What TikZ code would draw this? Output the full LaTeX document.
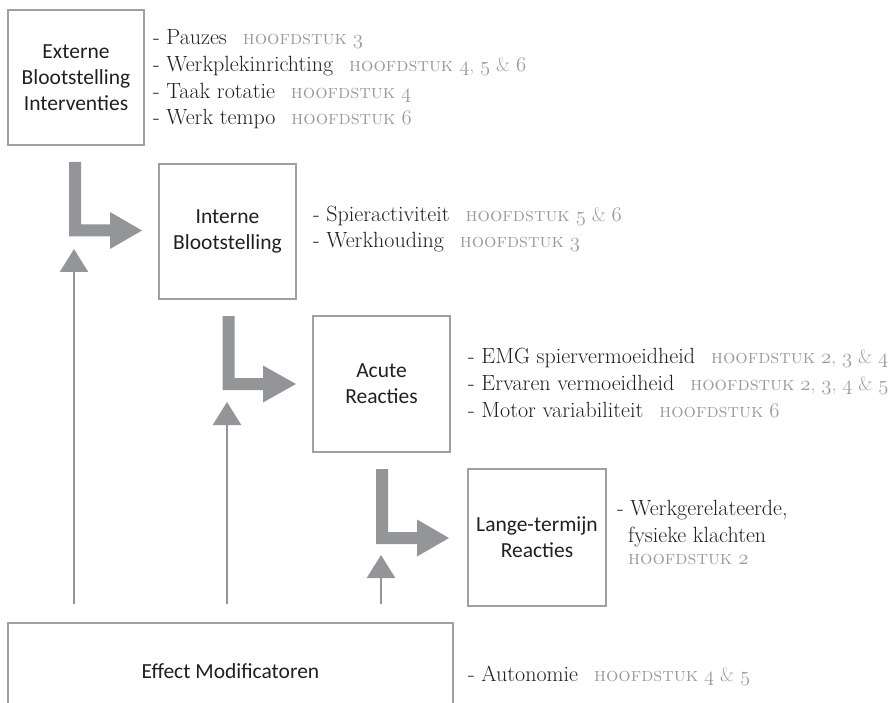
\documentclass[tikz,border=0pt]{standalone}
\usepackage{fontspec}
\setsansfont{Carlito}
\usetikzlibrary{arrows.meta}
\definecolor{boxgray}{HTML}{A0A0A0}
\definecolor{arrgray}{HTML}{939598}
\definecolor{scgray}{HTML}{9B9B9B}
\definecolor{txt}{HTML}{231F20}
\newcommand\osf[1]{{\usefont{OML}{lmm}{m}{it}#1}}
\newcommand\scpart[1]{{\fontsize{19.5}{26}\selectfont\color{scgray}\textsc{hoofdstuk} #1}}
\newcommand\hfd[1]{\hspace{16pt}\scpart{#1}}
% L-shaped thick arrow: #1 vertical centre x, #2 top y, #3 horizontal centre y, #4 head start x, #5 tip x
\newcommand\LArrowShape[5]{%
  \fill[arrgray] ({#1-6},#2) -- ({#1+6},#2) -- ({#1+6},{#3-6}) -- (#4,{#3-6}) --
    (#4,{#3-18.5}) -- (#5,#3) -- (#4,{#3+18.5}) -- (#4,{#3+6}) -- ({#1-6},{#3+6}) -- cycle;}
\tikzset{
  box/.style={draw=boxgray, line width=1.8pt, inner sep=0pt, align=center,
    font=\sffamily\fontsize{21.5}{26}\selectfont, text=txt},
  item/.style={anchor=base west, inner sep=0pt, font=\fontsize{22}{27}\selectfont, text=txt},
  thinarrow/.style={draw=arrgray, line width=2.5pt, -{Triangle[width=28pt,length=23pt]}}
}
\begin{document}
\begin{tikzpicture}[x=1pt,y=-1pt]
\useasboundingbox (0,0) rectangle (894,703);

% boxes
\node[box, minimum width=136pt, minimum height=135pt] (ext) at (76,77.5) {Externe\\Blootstelling\\Interventies};
\node[box, minimum width=137pt, minimum height=135pt] (int) at (227.5,231.5) {Interne\\Blootstelling};
\node[box, minimum width=137pt, minimum height=136pt] (acu) at (381.5,384) {Acute\\Reacties};
\node[box, minimum width=138pt, minimum height=137pt] (lan) at (537,537.5) {Lange-termijn\\Reacties};
\node[box, minimum width=445pt, minimum height=96pt] (eff) at (230.5,671) {Effect Modificatoren};

% lists
\node[item] (e1) at (153,45) {- Pauzes\hfd{\osf{3}}};
\node[item] (e2) at (153,72) {- Werkplekinrichting\hfd{\osf{4}, \osf{5} \& \osf{6}}};
\node[item] (e3) at (153,99) {- Taak rotatie\hfd{\osf{4}}};
\node[item] (e4) at (153,125) {- Werk tempo\hfd{\osf{6}}};

\node[item] (i1) at (313,222) {- Spieractiviteit\hfd{\osf{5} \& \osf{6}}};
\node[item] (i2) at (313,248) {- Werkhouding\hfd{\osf{3}}};

\node[item] (a1) at (468,363) {- EMG spiervermoeidheid\hfd{\osf{2}, \osf{3} \& \osf{4}}};
\node[item] (a2) at (468,390) {- Ervaren vermoeidheid\hfd{\osf{2}, \osf{3}, \osf{4} \& \osf{5}}};
\node[item] (a3) at (468,417) {- Motor variabiliteit\hfd{\osf{6}}};

\node[item] (l1) at (617,515) {- Werkgerelateerde,};
\node[item] (l2) at (628,542) {fysieke klachten};
\node[item] (l3) at (628,564) {\scpart{\osf{2}}};

\node[item] (m1) at (468,681) {- Autonomie\hfd{\osf{4} \& \osf{5}}};

% thick L arrows
\LArrowShape{75}{162}{230.5}{110}{142}
\LArrowShape{228.5}{316}{384}{263}{296}
\LArrowShape{382}{469}{538}{417}{449}

% thin arrows from effect modifiers
\coordinate (t1) at (74,249);
\coordinate (t2) at (227,402);
\coordinate (t3) at (381,555);
\draw[thinarrow] (eff.north -| t1) ++(0,-18) -- (t1);
\draw[thinarrow] (eff.north -| t2) ++(0,-18) -- (t2);
\draw[thinarrow] (eff.north -| t3) ++(0,-18) -- (t3);
\end{tikzpicture}
\end{document}
